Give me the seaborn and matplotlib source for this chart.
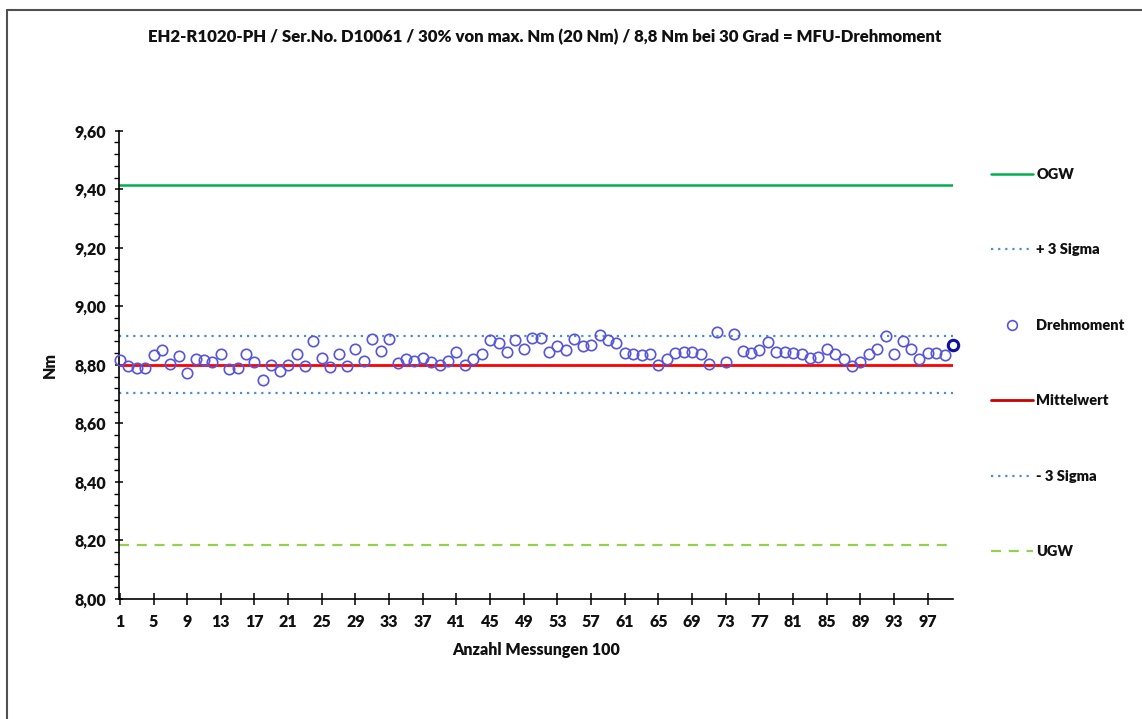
import matplotlib
matplotlib.use("Agg")
import matplotlib.pyplot as plt
import seaborn as sns
import pandas as pd
import numpy as np
from matplotlib.lines import Line2D
from matplotlib.ticker import FixedLocator, MultipleLocator, FuncFormatter

# ---- data ----
messung = list(range(1, 101))
drehmoment = [
    8.815, 8.796, 8.790, 8.790, 8.832, 8.852, 8.804, 8.829, 8.773, 8.819,
    8.815, 8.809, 8.836, 8.786, 8.790, 8.836, 8.809, 8.748, 8.801, 8.780,
    8.801, 8.836, 8.795, 8.880, 8.823, 8.793, 8.837, 8.796, 8.855, 8.813,
    8.890, 8.847, 8.890, 8.805, 8.820, 8.813, 8.825, 8.809, 8.799, 8.813,
    8.844, 8.801, 8.820, 8.837, 8.884, 8.876, 8.844, 8.884, 8.855, 8.893,
    8.893, 8.845, 8.863, 8.852, 8.888, 8.863, 8.869, 8.901, 8.884, 8.876,
    8.840, 8.836, 8.832, 8.838, 8.799, 8.820, 8.840, 8.845, 8.845, 8.837,
    8.804, 8.912, 8.809, 8.905, 8.846, 8.842, 8.850, 8.878, 8.844, 8.844,
    8.840, 8.838, 8.825, 8.827, 8.854, 8.836, 8.821, 8.797, 8.810, 8.836,
    8.855, 8.897, 8.838, 8.881, 8.853, 8.821, 8.840, 8.840, 8.832, 8.867,
]
ogw = 9.416
plus_3_sigma = 8.897
mittelwert = 8.800
minus_3_sigma = 8.703
ugw = 8.184
x_ticks = list(range(1, 98, 4))
y_ticks = [8.00, 8.20, 8.40, 8.60, 8.80, 9.00, 9.20, 9.40, 9.60]

title = "EH2-R1020-PH / Ser.No. D10061 / 30% von max. Nm (20 Nm) / 8,8 Nm bei 30 Grad = MFU-Drehmoment"
xlabel = "Anzahl Messungen 100"
ylabel = "Nm"

# ---- style ----
sns.set_theme(style="white")
plt.rcParams["font.family"] = ["Lato", "DejaVu Sans"]
plt.rcParams["font.weight"] = "bold"

W, H = 1142, 719
fig = plt.figure(figsize=(W / 100, H / 100), dpi=100)
fig.patch.set_facecolor("white")
ax = fig.add_axes([119 / W, 1 - 599 / H, (953 - 119) / W, (599 - 130.7) / H])
ax.set_facecolor("white")

c_ogw = "#00B050"
c_sig = "#4A90C8"
c_mean = "#FF0000"
c_ugw = "#92D050"
c_pt = "#5555DD"

ax.axhline(ogw, color=c_ogw, lw=1.8, zorder=2)
ax.axhline(plus_3_sigma, color=c_sig, lw=1.6, ls=(0, (1, 2.2)), zorder=2)
ax.axhline(mittelwert, color=c_mean, lw=2.0, zorder=2)
ax.axhline(minus_3_sigma, color=c_sig, lw=1.6, ls=(0, (1, 2.2)), zorder=2)
ax.axhline(ugw, color=c_ugw, lw=1.6, ls=(0, (4.5, 3.5)), zorder=2)

df = pd.DataFrame({"Messung": messung, "Drehmoment": drehmoment})
sns.lineplot(data=df, x="Messung", y="Drehmoment", ax=ax, linestyle="",
             marker="o", markersize=7.5, markerfacecolor="none",
             markeredgecolor=c_pt, markeredgewidth=1.2, color=c_pt,
             zorder=3, clip_on=False, legend=False)
# highlighted last point
sns.lineplot(data=df.iloc[[-1]], x="Messung", y="Drehmoment", ax=ax, linestyle="",
             marker="o", markersize=7.5, markerfacecolor="none",
             markeredgecolor="#1010A0", markeredgewidth=2.2, color="#1010A0",
             zorder=4, clip_on=False, legend=False)

ax.set_xlim(0.9, 100.0)
ax.set_ylim(8.0, 9.6)
ax.xaxis.set_major_locator(FixedLocator(x_ticks))
ax.yaxis.set_major_locator(FixedLocator(y_ticks))
ax.yaxis.set_minor_locator(MultipleLocator(0.04))
ax.yaxis.set_major_formatter(FuncFormatter(lambda v, p: f"{v:.2f}".replace(".", ",")))

for s in ["top", "right"]:
    ax.spines[s].set_visible(False)
for s in ["left", "bottom"]:
    ax.spines[s].set_color("black")
    ax.spines[s].set_linewidth(1.2)

ax.tick_params(axis="x", which="major", direction="inout", length=9, width=1.1,
               color="black", labelsize=11.5, pad=6, bottom=True)
ax.tick_params(axis="y", which="major", direction="inout", length=6, width=1.1,
               color="black", labelsize=11.5, pad=6, left=True)
ax.tick_params(axis="y", which="minor", direction="out", length=3.5, width=1.0,
               color="black", left=True)
for lab in ax.get_xticklabels() + ax.get_yticklabels():
    lab.set_fontweight("heavy")
    lab.set_color("#111111")

ax.set_xlabel(xlabel, fontsize=11.5, fontweight="heavy", color="#111111", labelpad=9)
ax.set_ylabel(ylabel, fontsize=11.5, fontweight="heavy", color="#111111", labelpad=12)
fig.text(545 / W, 1 - 37 / H, title, ha="center", va="center",
         fontsize=12.1, fontweight="heavy", color="#111111")

handles = [
    Line2D([], [], color=c_ogw, lw=1.8),
    Line2D([], [], color=c_sig, lw=1.6, ls=(0, (1, 2.2))),
    Line2D([], [], ls="", marker="o", markersize=7, markerfacecolor="none",
           markeredgecolor=c_pt, markeredgewidth=1.2),
    Line2D([], [], color="#CC0000", lw=2.0),
    Line2D([], [], color=c_sig, lw=1.6, ls=(0, (1, 2.2))),
    Line2D([], [], color=c_ugw, lw=1.6, ls=(0, (4.5, 3.5))),
]
labels = ["OGW", "+ 3 Sigma", "Drehmoment", "Mittelwert", "- 3 Sigma", "UGW"]
leg = fig.legend(handles, labels, loc="upper left",
                 bbox_to_anchor=(991 / W, 1 - 168 / H), frameon=False,
                 borderpad=0, borderaxespad=0, handlelength=2.9,
                 handletextpad=0.2, labelspacing=4.28,
                 prop={"size": 10.5, "weight": "heavy"})
for t in leg.get_texts():
    t.set_color("#111111")

# outer chart border (top and left visible)
fig.add_artist(Line2D([7 / W, 7 / W], [0, 1 - 10 / H], transform=fig.transFigure,
                      color="#505050", lw=1.5))
fig.add_artist(Line2D([7 / W, 1], [1 - 10 / H, 1 - 10 / H], transform=fig.transFigure,
                      color="#505050", lw=1.5))

fig.savefig("out.png", dpi=100, facecolor="white")
